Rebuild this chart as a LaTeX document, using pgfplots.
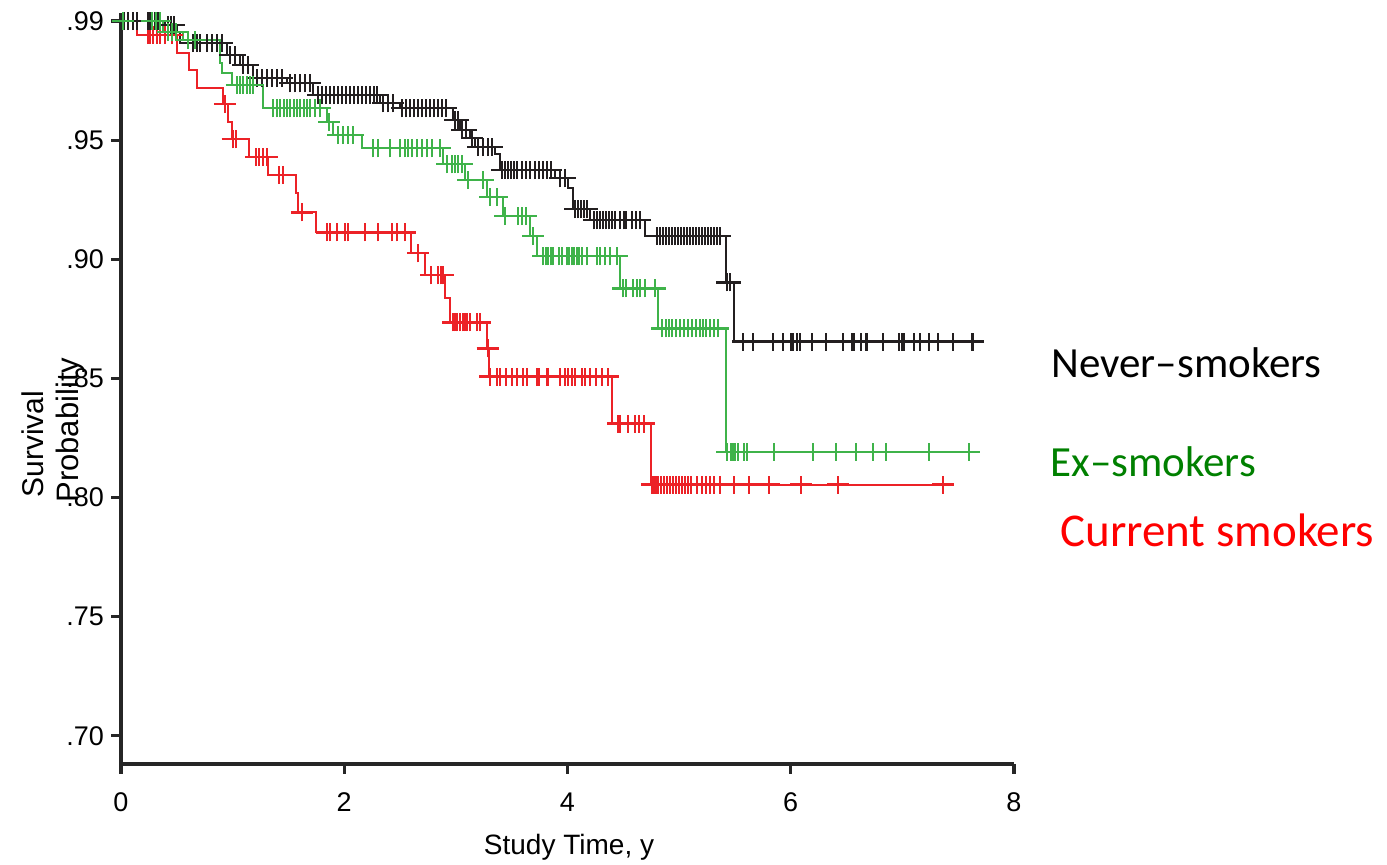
\documentclass[border=0pt]{standalone}
\usepackage{fontspec}
\setmainfont{Liberation Sans}
\newfontfamily\calibri{Carlito}
\usepackage{pgfplots}
\pgfplotsset{compat=1.18}
\definecolor{kmblack}{HTML}{231F20}
\definecolor{kmgreen}{HTML}{3FB34A}
\definecolor{kmred}{HTML}{EC2227}
\definecolor{lblgreen}{HTML}{008000}
\definecolor{lblred}{HTML}{FF0000}
% censoring mark: a plus, a little wider than tall
\pgfdeclareplotmark{cens}{%
  \pgfpathmoveto{\pgfqpoint{-5.5pt}{0pt}}\pgfpathlineto{\pgfqpoint{5.5pt}{0pt}}%
  \pgfpathmoveto{\pgfqpoint{0pt}{-4.5pt}}\pgfpathlineto{\pgfqpoint{0pt}{4.5pt}}%
  \pgfusepathqstroke}

\begin{document}
\begin{tikzpicture}
\useasboundingbox (0,0) rectangle (693.5pt,432.5pt);
\begin{axis}[
  at={(60.5pt,50.5pt)}, anchor=south west,
  scale only axis, width=446.5pt, height=375.5pt,
  xmin=0, xmax=8, ymin=0.6882, ymax=1.0034,
  axis x line*=bottom, axis y line*=left,
  tick align=outside, major tick length=5pt,
  axis line style={-, line width=1.6pt, draw=black!85},
  every tick/.style={line width=1.6pt, black!85},
  xtick={0,2,4,6,8}, xticklabels={0,2,4,6,8},
  ytick={0.70,0.75,0.80,0.85,0.90,0.95,1.0},
  yticklabels={.70,.75,.80,.85,.90,.95,.99},
  tick label style={font=\fontsize{13.5}{15}\selectfont},
  xticklabel style={yshift=-6pt},
  clip=false,
]
% current smokers
\addplot[const plot, kmred, line width=1pt] coordinates {
 (0,1.000) (0.143,0.9941) (0.502,0.9866) (0.609,0.9794) (0.681,0.9718) (0.914,0.9651)
 (0.959,0.9576) (0.995,0.9504) (1.147,0.9429) (1.317,0.9353) (1.568,0.9277) (1.586,0.9197)
 (1.747,0.9113) (2.599,0.9025) (2.724,0.8933) (2.903,0.8836) (2.948,0.8735) (3.280,0.8626)
 (3.297,0.8508) (4.400,0.8311) (4.749,0.8055) (7.455,0.8055)};
\addplot[only marks, mark=cens, kmred, mark options={line width=1.1pt}] coordinates {
 (0.242,0.9941) (0.260,0.9941) (0.287,0.9941) (0.323,0.9941) (0.349,0.9941) (0.394,0.9941) (0.457,0.9941)
 (0.930,0.9651) (1.000,0.9504) (1.030,0.9504)
 (1.210,0.9429) (1.237,0.9429) (1.272,0.9429) (1.308,0.9429)
 (1.416,0.9353) (1.452,0.9353) (1.620,0.9197)
 (1.846,0.9113) (1.873,0.9113) (1.935,0.9113) (2.007,0.9113) (2.034,0.9113) (2.186,0.9113)
 (2.303,0.9113) (2.428,0.9113) (2.473,0.9113) (2.545,0.9113)
 (2.661,0.9025)
 (2.778,0.8933) (2.841,0.8933) (2.868,0.8933) (2.885,0.8933)
 (2.975,0.8735) (2.993,0.8735) (3.011,0.8735) (3.038,0.8735) (3.065,0.8735) (3.082,0.8735)
 (3.100,0.8735) (3.127,0.8735) (3.190,0.8735) (3.217,0.8735)
 (3.285,0.8626)
 (3.306,0.8508) (3.369,0.8508) (3.396,0.8508) (3.450,0.8508) (3.504,0.8508) (3.548,0.8508)
 (3.602,0.8508) (3.638,0.8508) (3.728,0.8508) (3.746,0.8508) (3.817,0.8508) (3.826,0.8508)
 (3.934,0.8508) (3.978,0.8508) (4.005,0.8508) (4.041,0.8508) (4.068,0.8508) (4.131,0.8508)
 (4.158,0.8508) (4.203,0.8508) (4.256,0.8508) (4.310,0.8508) (4.364,0.8508)
 (4.453,0.8311) (4.471,0.8311) (4.543,0.8311) (4.606,0.8311) (4.642,0.8311) (4.686,0.8311)
 (4.758,0.8055) (4.776,0.8055) (4.794,0.8055) (4.812,0.8055) (4.839,0.8055) (4.866,0.8055)
 (4.892,0.8055) (4.919,0.8055) (4.946,0.8055) (4.973,0.8055) (5.000,0.8055) (5.027,0.8055)
 (5.054,0.8055) (5.081,0.8055) (5.108,0.8055) (5.161,0.8055) (5.206,0.8055) (5.242,0.8055)
 (5.278,0.8055) (5.314,0.8055) (5.368,0.8055) (5.493,0.8055) (5.627,0.8055) (5.806,0.8055)
 (6.093,0.8055) (6.425,0.8055) (7.366,0.8055)};
% never-smokers
\addplot[const plot, kmblack, line width=1pt] coordinates {
 (0,1.000) (0.394,0.9983) (0.502,0.9954) (0.529,0.9908) (0.950,0.9857) (1.066,0.9815)
 (1.183,0.9761) (1.487,0.9739) (1.720,0.9689) (2.321,0.9655) (2.500,0.9634) (2.975,0.9584)
 (3.038,0.9542) (3.127,0.9508) (3.172,0.9471) (3.351,0.9441) (3.396,0.9374) (3.889,0.9340)
 (4.000,0.9298) (4.050,0.9210) (4.203,0.9164) (4.695,0.9097) (5.421,0.8903) (5.493,0.8655)
 (7.724,0.8655)};
\addplot[only marks, mark=cens, kmblack, mark options={line width=1.1pt}] coordinates {
 (0.027,1.000) (0.063,1.000) (0.108,1.000) (0.143,1.000) (0.242,1.000) (0.260,1.000)
 (0.278,1.000) (0.305,1.000) (0.332,1.000)
 (0.421,0.9983) (0.448,0.9983) (0.475,0.9983)
 (0.645,0.9908) (0.681,0.9908) (0.708,0.9908) (0.771,0.9908) (0.815,0.9908) (0.860,0.9908) (0.905,0.9908)
 (0.977,0.9857) (1.022,0.9857) (1.093,0.9815) (1.138,0.9815)
 (1.219,0.9761) (1.263,0.9761) (1.308,0.9761) (1.353,0.9761) (1.398,0.9761) (1.443,0.9761)
 (1.514,0.9739) (1.559,0.9739) (1.604,0.9739) (1.649,0.9739) (1.694,0.9739)
 (1.765,0.9689) (1.801,0.9689) (1.837,0.9689) (1.873,0.9689) (1.909,0.9689) (1.944,0.9689)
 (1.980,0.9689) (2.016,0.9689) (2.052,0.9689) (2.088,0.9689) (2.124,0.9689) (2.160,0.9689)
 (2.195,0.9689) (2.231,0.9689) (2.267,0.9689) (2.294,0.9689)
 (2.348,0.9655) (2.392,0.9655) (2.437,0.9655)
 (2.518,0.9634) (2.554,0.9634) (2.590,0.9634) (2.625,0.9634) (2.661,0.9634) (2.697,0.9634)
 (2.733,0.9634) (2.769,0.9634) (2.805,0.9634) (2.841,0.9634) (2.876,0.9634) (2.912,0.9634)
 (2.993,0.9584) (3.020,0.9584) (3.056,0.9542) (3.091,0.9542) (3.145,0.9508)
 (3.199,0.9471) (3.244,0.9471) (3.289,0.9471) (3.324,0.9471)
 (3.414,0.9374) (3.441,0.9374) (3.468,0.9374) (3.495,0.9374) (3.522,0.9374) (3.548,0.9374)
 (3.593,0.9374) (3.629,0.9374) (3.665,0.9374) (3.710,0.9374) (3.746,0.9374) (3.781,0.9374)
 (3.817,0.9374) (3.853,0.9374)
 (3.934,0.9340) (3.978,0.9340)
 (4.068,0.9210) (4.095,0.9210) (4.122,0.9210) (4.149,0.9210) (4.176,0.9210)
 (4.238,0.9164) (4.265,0.9164) (4.292,0.9164) (4.319,0.9164) (4.346,0.9164) (4.373,0.9164)
 (4.400,0.9164) (4.427,0.9164) (4.471,0.9164) (4.507,0.9164) (4.525,0.9164) (4.579,0.9164)
 (4.615,0.9164) (4.651,0.9164)
 (4.803,0.9097) (4.830,0.9097) (4.857,0.9097) (4.884,0.9097) (4.910,0.9097) (4.937,0.9097)
 (4.964,0.9097) (4.991,0.9097) (5.018,0.9097) (5.045,0.9097) (5.072,0.9097) (5.099,0.9097)
 (5.126,0.9097) (5.152,0.9097) (5.179,0.9097) (5.206,0.9097) (5.233,0.9097) (5.260,0.9097)
 (5.287,0.9097) (5.314,0.9097) (5.341,0.9097) (5.368,0.9097)
 (5.430,0.8903) (5.457,0.8903)
 (5.573,0.8655) (5.663,0.8655) (5.842,0.8655) (5.932,0.8655) (6.004,0.8655) (6.022,0.8655)
 (6.057,0.8655) (6.084,0.8655) (6.192,0.8655) (6.317,0.8655) (6.470,0.8655) (6.550,0.8655)
 (6.568,0.8655) (6.631,0.8655) (6.676,0.8655) (6.685,0.8655) (6.828,0.8655) (6.971,0.8655)
 (6.998,0.8655) (7.016,0.8655) (7.106,0.8655) (7.160,0.8655) (7.240,0.8655) (7.321,0.8655)
 (7.455,0.8655) (7.625,0.8655) (7.634,0.8655)};
% ex-smokers
\addplot[const plot, kmgreen, line width=1pt] coordinates {
 (0,1.000) (0.376,0.9954) (0.556,0.9920) (0.887,0.9824) (0.905,0.9782) (0.995,0.9731)
 (1.272,0.9634) (1.846,0.9576) (1.900,0.9521) (2.160,0.9466) (2.885,0.9399) (3.082,0.9332)
 (3.280,0.9261) (3.423,0.9181) (3.665,0.9097) (3.728,0.9013) (4.471,0.8878) (4.812,0.8710)
 (5.421,0.8193) (7.679,0.8193)};
\addplot[only marks, mark=cens, kmgreen, mark options={line width=1.1pt}] coordinates {
 (0.018,1.000) (0.278,1.000) (0.314,1.000) (0.349,1.000)
 (0.421,0.9954) (0.457,0.9954) (0.493,0.9954)
 (0.600,0.9920) (0.663,0.9920)
 (1.039,0.9731) (1.066,0.9731) (1.093,0.9731) (1.129,0.9731) (1.156,0.9731) (1.183,0.9731)
 (1.362,0.9634) (1.398,0.9634) (1.425,0.9634) (1.461,0.9634) (1.487,0.9634) (1.514,0.9634)
 (1.550,0.9634) (1.577,0.9634) (1.604,0.9634) (1.640,0.9634) (1.667,0.9634) (1.694,0.9634)
 (1.738,0.9634) (1.783,0.9634)
 (1.864,0.9576)
 (1.944,0.9521) (1.989,0.9521) (2.034,0.9521) (2.079,0.9521)
 (2.258,0.9466) (2.303,0.9466) (2.410,0.9466) (2.500,0.9466) (2.545,0.9466) (2.572,0.9466)
 (2.608,0.9466) (2.652,0.9466) (2.697,0.9466) (2.742,0.9466) (2.787,0.9466) (2.858,0.9466)
 (2.921,0.9399) (2.966,0.9399) (2.993,0.9399) (3.020,0.9399) (3.056,0.9399)
 (3.109,0.9332) (3.244,0.9332) (3.306,0.9261) (3.369,0.9261)
 (3.441,0.9181) (3.557,0.9181) (3.593,0.9181) (3.629,0.9181) (3.692,0.9097)
 (3.781,0.9013) (3.808,0.9013) (3.826,0.9013) (3.853,0.9013) (3.871,0.9013) (3.925,0.9013)
 (3.952,0.9013) (3.996,0.9013) (4.014,0.9013) (4.041,0.9013) (4.059,0.9013) (4.086,0.9013)
 (4.104,0.9013) (4.131,0.9013) (4.176,0.9013) (4.265,0.9013) (4.292,0.9013) (4.337,0.9013)
 (4.382,0.9013) (4.444,0.9013)
 (4.498,0.8878) (4.525,0.8878) (4.588,0.8878) (4.624,0.8878) (4.651,0.8878) (4.695,0.8878) (4.785,0.8878)
 (4.848,0.8710) (4.884,0.8710) (4.910,0.8710) (4.937,0.8710) (4.973,0.8710) (5.009,0.8710)
 (5.045,0.8710) (5.081,0.8710) (5.117,0.8710) (5.152,0.8710) (5.188,0.8710) (5.215,0.8710)
 (5.242,0.8710) (5.278,0.8710) (5.314,0.8710) (5.350,0.8710)
 (5.430,0.8193) (5.466,0.8193) (5.484,0.8193) (5.502,0.8193) (5.529,0.8193) (5.583,0.8193)
 (5.609,0.8193) (5.851,0.8193) (6.201,0.8193) (6.407,0.8193) (6.586,0.8193) (6.738,0.8193)
 (6.855,0.8193) (7.240,0.8193) (7.599,0.8193)};
\end{axis}
% axis titles
\node[rotate=90, anchor=base west, inner sep=0pt, font=\fontsize{15}{17}\selectfont] at (21.5pt,183.5pt) {Survival};
\node[rotate=90, anchor=base west, inner sep=0pt, font=\fontsize{15.5}{17}\selectfont] at (39pt,181pt) {Probability};
\node[anchor=base, inner sep=0pt, font=\fontsize{14}{16}\selectfont] at (284.5pt,5pt) {Study Time, y};
% group labels
\node[anchor=base west, inner sep=0pt, font=\calibri\fontsize{21.5}{24}\selectfont, text=black] at (525.5pt,243.5pt) {Never–smokers};
\node[anchor=base west, inner sep=0pt, font=\calibri\fontsize{21.5}{24}\selectfont, text=lblgreen] at (525pt,194pt) {Ex–smokers};
\node[anchor=base west, inner sep=0pt, font=\calibri\fontsize{23.5}{26}\selectfont, text=lblred] at (530pt,159pt) {Current smokers};
\end{tikzpicture}
\end{document}
